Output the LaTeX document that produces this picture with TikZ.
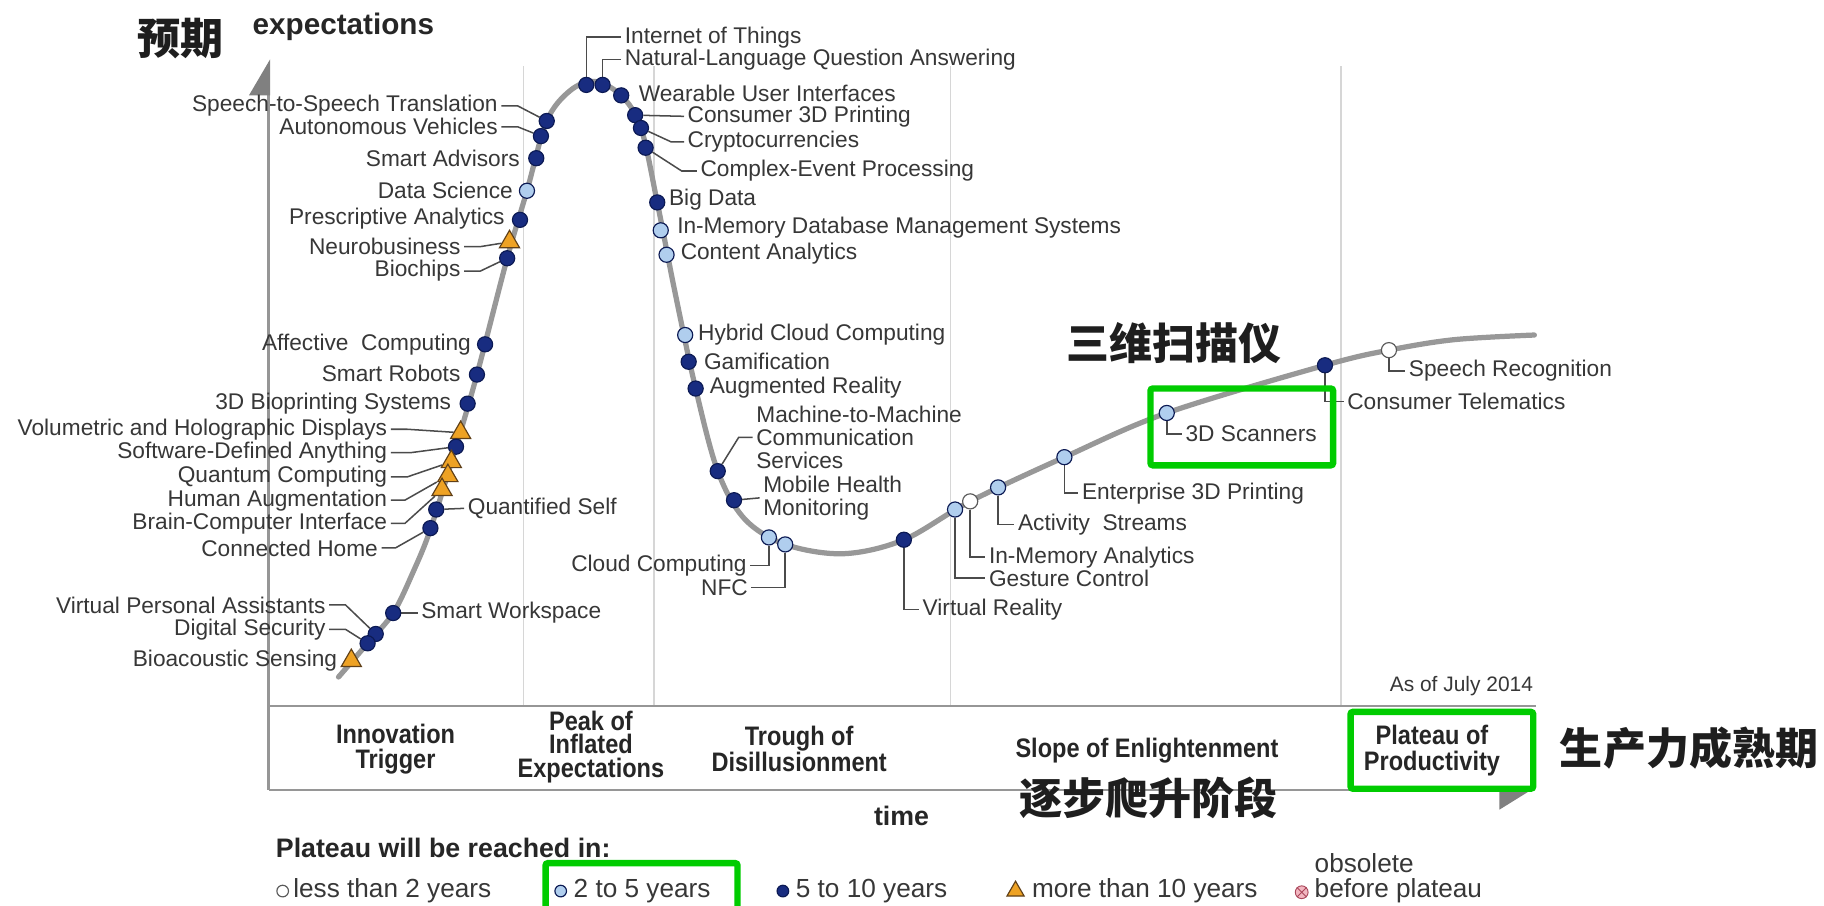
\documentclass[tikz,border=0pt]{standalone}
\usepackage{fontspec}
\setmainfont{Liberation Sans}
\newfontfamily\narrowfont[FakeStretch=0.88]{Liberation Sans}
\newfontfamily\cjk{Noto Sans CJK SC}
\usetikzlibrary{shapes.geometric}

\definecolor{navy}{RGB}{24,44,128}
\definecolor{navyrim}{RGB}{12,26,84}
\definecolor{skyblue}{RGB}{176,206,238}
\definecolor{amber}{RGB}{238,162,36}
\definecolor{brownrim}{RGB}{96,64,24}
\definecolor{rimgray}{RGB}{90,90,90}
\definecolor{curvegray}{RGB}{152,152,152}
\definecolor{divgray}{RGB}{214,214,214}
\definecolor{axisgray}{RGB}{150,150,150}
\definecolor{leadgray}{RGB}{75,75,75}
\definecolor{txtgray}{RGB}{55,55,55}
\definecolor{cjkblack}{RGB}{30,30,30}
\definecolor{boxgreen}{RGB}{0,204,0}
\definecolor{pinkfill}{RGB}{242,182,192}
\definecolor{pinkrim}{RGB}{170,70,90}

\pgfdeclarelayer{bg}
\pgfsetlayers{bg,main}

\newcommand{\lblsize}{\fontsize{19.5}{20}\selectfont}
\newcommand{\keysize}{\fontsize{22.5}{22}\selectfont}

\begin{document}
\begin{tikzpicture}[x=1pt,y=-1pt,
	lbl/.style={inner sep=0pt, text=txtgray, font=\lblsize},
	dk/.style={circle, draw=navyrim, fill=navy, line width=1pt, minimum size=13pt, inner sep=0pt},
	lt/.style={dk, fill=skyblue},
	wt/.style={dk, draw=rimgray, fill=white},
	tri/.style={regular polygon, regular polygon sides=3, draw=brownrim, fill=amber, line width=1pt, minimum size=20pt, inner sep=0pt},
	lead/.style={draw=leadgray, line width=1.3pt},
	phase/.style={align=center, inner sep=0pt, text=black!85, font=\narrowfont\bfseries\fontsize{23}{22}\selectfont},
	key/.style={anchor=west, inner sep=0pt, text=txtgray, font=\keysize},
	hanzi/.style={inner sep=0pt, text=cjkblack, font=\cjk\bfseries\fontsize{37}{40}\selectfont},
	greenbox/.style={draw=boxgreen, line width=5.5pt, rounded corners=2pt}]

	\path[use as bounding box] (0,0) rectangle (1568,778);

	% axis titles
	\node[hanzi] (yq) at (155,33) {预期};
	\node[anchor=west, inner sep=0pt, text=black!85, font=\bfseries\fontsize{25.5}{25}\selectfont] (expL) at (217,23) {expectations};
	\node[inner sep=0pt, text=black!85, font=\bfseries\fontsize{23}{23}\selectfont] (timeL) at (775,701) {time};

	% rising flank
	\node[dk] (sst) at (470,104) {};
	\node[lbl, anchor=east] (sstL) at (428,91) {Speech-to-Speech Translation};
	\node[dk] (av) at (465,117) {};
	\node[lbl, anchor=east] (avL) at (428,109) {Autonomous Vehicles};
	\node[dk] (sa) at (461,136) {};
	\node[lbl, anchor=east] (saL) at (447,136) {Smart Advisors};
	\node[lt] (dsc) at (453,164) {};
	\node[lbl, anchor=east] (dscL) at (441,164) {Data Science};
	\node[dk] (pa) at (447,189) {};
	\node[lbl, anchor=east] (paL) at (434,188) {Prescriptive Analytics};
	\node[tri] (nb) at (438,208) {};
	\node[lbl, anchor=east] (nbL) at (396,212) {Neurobusiness};
	\node[dk] (bc) at (436,222) {};
	\node[lbl, anchor=east] (bcL) at (396,233) {Biochips};
	\node[dk] (ac) at (417,296) {};
	\node[lbl, anchor=east] (acL) at (405,296) {Affective\ \ Computing};
	\node[dk] (sr) at (410,322) {};
	\node[lbl, anchor=east] (srL) at (396,321) {Smart Robots};
	\node[dk] (bp) at (402,347) {};
	\node[lbl, anchor=east] (bpL) at (388,347) {3D Bioprinting Systems};
	\node[tri] (vh) at (396,372) {};
	\node[lbl, anchor=east] (vhL) at (333,369) {Volumetric and Holographic Displays};
	\node[dk] (sd) at (392,384) {};
	\node[lbl, anchor=east] (sdL) at (333,389) {Software-Defined Anything};
	\node[tri] (qc) at (388,397) {};
	\node[lbl, anchor=east] (qcL) at (333,410) {Quantum Computing};
	\node[tri] (ha) at (385,409) {};
	\node[lbl, anchor=east] (haL) at (333,430) {Human Augmentation};
	\node[tri] (bci) at (380,421) {};
	\node[lbl, anchor=east] (bciL) at (333,450) {Brain-Computer Interface};
	\node[dk] (qs) at (375,438) {};
	\node[lbl, anchor=west] (qsL) at (402,437) {Quantified Self};
	\node[dk] (ch) at (370,454) {};
	\node[lbl, anchor=east] (chL) at (325,471) {Connected Home};
	\node[dk] (sw) at (338,527) {};
	\node[lbl, anchor=west] (swL) at (362,527) {Smart Workspace};
	\node[dk] (vpa) at (323,545) {};
	\node[lbl, anchor=east] (vpaL) at (280,520) {Virtual Personal Assistants};
	\node[dk] (dsec) at (316,553) {};
	\node[lbl, anchor=east] (dsecL) at (280,541) {Digital Security};
	\node[tri] (bs) at (302,568) {};
	\node[lbl, anchor=east] (bsL) at (290,568) {Bioacoustic Sensing};

	% peak and slide
	\node[dk] (iot) at (504,73) {};
	\node[lbl, anchor=west] (iotL) at (537,32) {Internet of Things};
	\node[dk] (nlq) at (518,73) {};
	\node[lbl, anchor=west] (nlqL) at (537,51) {Natural-Language Question Answering};
	\node[dk] (wui) at (534,82) {};
	\node[lbl, anchor=west] (wuiL) at (549,80) {Wearable User Interfaces};
	\node[dk] (c3d) at (546,99) {};
	\node[lbl, anchor=west] (c3dL) at (591,100) {Consumer 3D Printing};
	\node[dk] (cry) at (551,110) {};
	\node[lbl, anchor=west] (cryL) at (591,122) {Cryptocurrencies};
	\node[dk] (cep) at (555,127) {};
	\node[lbl, anchor=west] (cepL) at (602,147) {Complex-Event Processing};
	\node[dk] (bd) at (565,174) {};
	\node[lbl, anchor=west] (bdL) at (575,172) {Big Data};
	\node[lt] (imdb) at (568,198) {};
	\node[lbl, anchor=west] (imdbL) at (582,196) {In-Memory Database Management Systems};
	\node[lt] (ca) at (573,219) {};
	\node[lbl, anchor=west] (caL) at (585,218) {Content Analytics};
	\node[lt] (hcc) at (589,288) {};
	\node[lbl, anchor=west] (hccL) at (600,288) {Hybrid Cloud Computing};
	\node[dk] (gam) at (592,311) {};
	\node[lbl, anchor=west] (gamL) at (605,311) {Gamification};
	\node[dk] (ar) at (598,334) {};
	\node[lbl, anchor=west] (arL) at (610,333) {Augmented Reality};
	\node[dk] (m2m) at (617,405) {};
	\node[lbl, anchor=west, align=left] (m2mL) at (650,376) {Machine-to-Machine\\Communication\\Services};
	\node[dk] (mh) at (631,430) {};
	\node[lbl, anchor=west, align=left] (mhL) at (656,428) {Mobile Health\\Monitoring};

	% trough and slope
	\node[lt] (cc) at (661,462) {};
	\node[lbl, anchor=east] (ccL) at (642,486) {Cloud Computing};
	\node[lt] (nfc) at (675,468) {};
	\node[lbl, anchor=east] (nfcL) at (643,505) {NFC};
	\node[dk] (vr) at (777,464) {};
	\node[lbl, anchor=west] (vrL) at (793,524) {Virtual Reality};
	\node[lt] (gc) at (821,438) {};
	\node[lbl, anchor=west] (gcL) at (850,497) {Gesture Control};
	\node[wt] (ima) at (834,431) {};
	\node[lbl, anchor=west] (imaL) at (850,479) {In-Memory Analytics};
	\node[lt] (as) at (858,419) {};
	\node[lbl, anchor=west] (asL) at (875,451) {Activity\ \ Streams};
	\node[lt] (e3d) at (915,393) {};
	\node[lbl, anchor=west] (e3dL) at (930,424) {Enterprise 3D Printing};
	\node[lt] (scn) at (1003,355) {};
	\node[lbl, anchor=west] (scnL) at (1019,373) {3D Scanners};
	\node[dk] (ct) at (1139,314) {};
	\node[lbl, anchor=west] (ctL) at (1158,345) {Consumer Telematics};
	\node[wt] (spr) at (1194,301) {};
	\node[lbl, anchor=west] (sprL) at (1211,319) {Speech Recognition};
	\node[hanzi] (swy) at (1009,295) {三维扫描仪};
	\draw[greenbox] (989,334) rectangle (1146,400);

	% phases
	\node[lbl, anchor=east, font=\fontsize{18}{20}\selectfont] (asof) at (1318,590) {As of July 2014};
	\node[phase] (inn) at (340,644) {Innovation\\Trigger};
	\node[phase] (peak) at (508,642) {Peak of\\[-2pt]Inflated\\[-2pt]Expectations};
	\node[phase] (trough) at (687,644) {Trough of\\Disillusionment};
	\node[phase] (slope) at (986,645) {Slope of Enlightenment};
	\node[phase] (plat) at (1231,645) {Plateau of\\Productivity};
	\draw[greenbox] (1161,612) rectangle (1318,678);
	\node[hanzi] (zbps) at (987,686) {逐步爬升阶段};
	\node[hanzi] (scl) at (1452,643) {生产力成熟期};

	% key
	\node[anchor=west, inner sep=0pt, text=black!85, font=\bfseries\fontsize{23}{23}\selectfont] (keyT) at (237,729) {Plateau will be reached in:};
	\node[wt, minimum size=10pt] (k1) at (243,766) {};
	\node[key] (k1L) at (252,766) {less than 2 years};
	\node[lt, minimum size=10pt] (k2) at (482,766) {};
	\node[key] (k2L) at (493,766) {2 to 5 years};
	\node[dk, minimum size=10pt] (k3) at (673,766) {};
	\node[key] (k3L) at (684,766) {5 to 10 years};
	\node[tri, minimum size=17pt] (k4) at (873,766) {};
	\node[key] (k4L) at (887,766) {more than 10 years};
	\node[circle, draw=pinkrim, fill=pinkfill, line width=0.8pt, minimum size=11pt, inner sep=0pt] (k5) at (1119,767) {};
	\draw[pinkrim, line width=0.8pt] (k5.north east) -- (k5.south west) (k5.north west) -- (k5.south east);
	\node[key, align=left] (k5L) at (1130,755) {obsolete\\before plateau};
	\draw[greenbox] (469,790) |- (552,742) -| (634,790);

	\begin{pgfonlayer}{bg}
		\fill[white] (0,0) rectangle (1568,778);
		\draw[divgray, line width=1.5pt] (450,57) -- (450,607);
		\draw[divgray, line width=1.5pt] (562,57) -- (562,607);
		\draw[divgray, line width=1.5pt] (817,57) -- (817,607);
		\draw[divgray, line width=1.5pt] (1153,57) -- (1153,607);
		\draw[axisgray, line width=2pt] (231,607) -- (1320,607);
		\draw[axisgray, line width=2pt] (231,679) -- (1290,679);
		\draw[axisgray, line width=2.5pt] (231,82) -- (231,679);
		\fill[axisgray!85!black] (214,82) -- (232.2,82) -- (232.2,51) -- cycle;
		\fill[axisgray!85!black] (1289,678) -- (1318,678) -- (1289,696) -- cycle;

		% the hype curve
		\draw[curvegray, line width=4.5pt, line cap=round] plot[smooth, tension=0.55] coordinates {(291,582) (316,553) (338,527) (355,492) (370,455) (392,384) (410,322) (436,222) (453,164) (470,104) (490,78) (511,70) (534,82) (551,110) (565,174) (580,250) (598,334) (617,405) (640,446) (675,468) (725,476) (777,464) (834,431) (915,393) (1003,355) (1139,314) (1194,301) (1250,292) (1319,288)};

		\draw[lead] ([xshift=3pt]sstL.east) -- ++(14,0) -- (sst);
		\draw[lead] ([xshift=3pt]avL.east) -- ++(14,0) -- (av);
		\draw[lead] ([xshift=3pt]nbL.east) -- ++(14,0) -- (nb);
		\draw[lead] ([xshift=3pt]bcL.east) -- ++(14,0) -- (bc);
		\draw[lead] ([xshift=3pt]vhL.east) -- ++(14,0) -- (vh);
		\draw[lead] ([xshift=3pt]sdL.east) -- ++(18,0) -- (sd);
		\draw[lead] ([xshift=3pt]qcL.east) -- ++(14,0) -- (qc);
		\draw[lead] ([xshift=3pt]haL.east) -- ++(12,0) -- (ha);
		\draw[lead] ([xshift=3pt]bciL.east) -- ++(12,0) -- (bci);
		\draw[lead] ([xshift=3pt]chL.east) -- ++(12,0) -- (ch);
		\draw[lead] ([xshift=3pt]vpaL.east) -- ++(14,0) -- (vpa);
		\draw[lead] ([xshift=3pt]dsecL.east) -- ++(14,0) -- (dsec);
		\draw[lead] (qs) -- ([xshift=-3pt]qsL.west);
		\draw[lead] (sw) -- ([xshift=-3pt]swL.west);
		\draw[lead] (iot) |- ([xshift=-3pt]iotL.west);
		\draw[lead] (nlq) |- ([xshift=-3pt]nlqL.west);
		\draw[lead] (c3d) -- ([xshift=-3pt]c3dL.west);
		\draw[lead] (cry) -- ([xshift=-14pt]cryL.west) -- ([xshift=-3pt]cryL.west);
		\draw[lead] (cep) -- ([xshift=-16pt]cepL.west) -- ([xshift=-3pt]cepL.west);
		\draw[lead] (m2m) -- ([xshift=-15pt]m2mL.west) -- ([xshift=-3pt]m2mL.west);
		\draw[lead] (mh) -- ([xshift=-3pt]mhL.west);
		\draw[lead] ([xshift=3pt]ccL.east) -| (cc);
		\draw[lead] ([xshift=3pt]nfcL.east) -| (nfc);
		\draw[lead] (vr) |- ([xshift=-3pt]vrL.west);
		\draw[lead] (gc) |- ([xshift=-3pt]gcL.west);
		\draw[lead] (ima) |- ([xshift=-3pt]imaL.west);
		\draw[lead] (as) |- ([xshift=-3pt]asL.west);
		\draw[lead] (e3d) |- ([xshift=-3pt]e3dL.west);
		\draw[lead] (scn) |- ([xshift=-3pt]scnL.west);
		\draw[lead] (ct) |- ([xshift=-3pt]ctL.west);
		\draw[lead] (spr) |- ([xshift=-3pt]sprL.west);
	\end{pgfonlayer}
\end{tikzpicture}
\end{document}
